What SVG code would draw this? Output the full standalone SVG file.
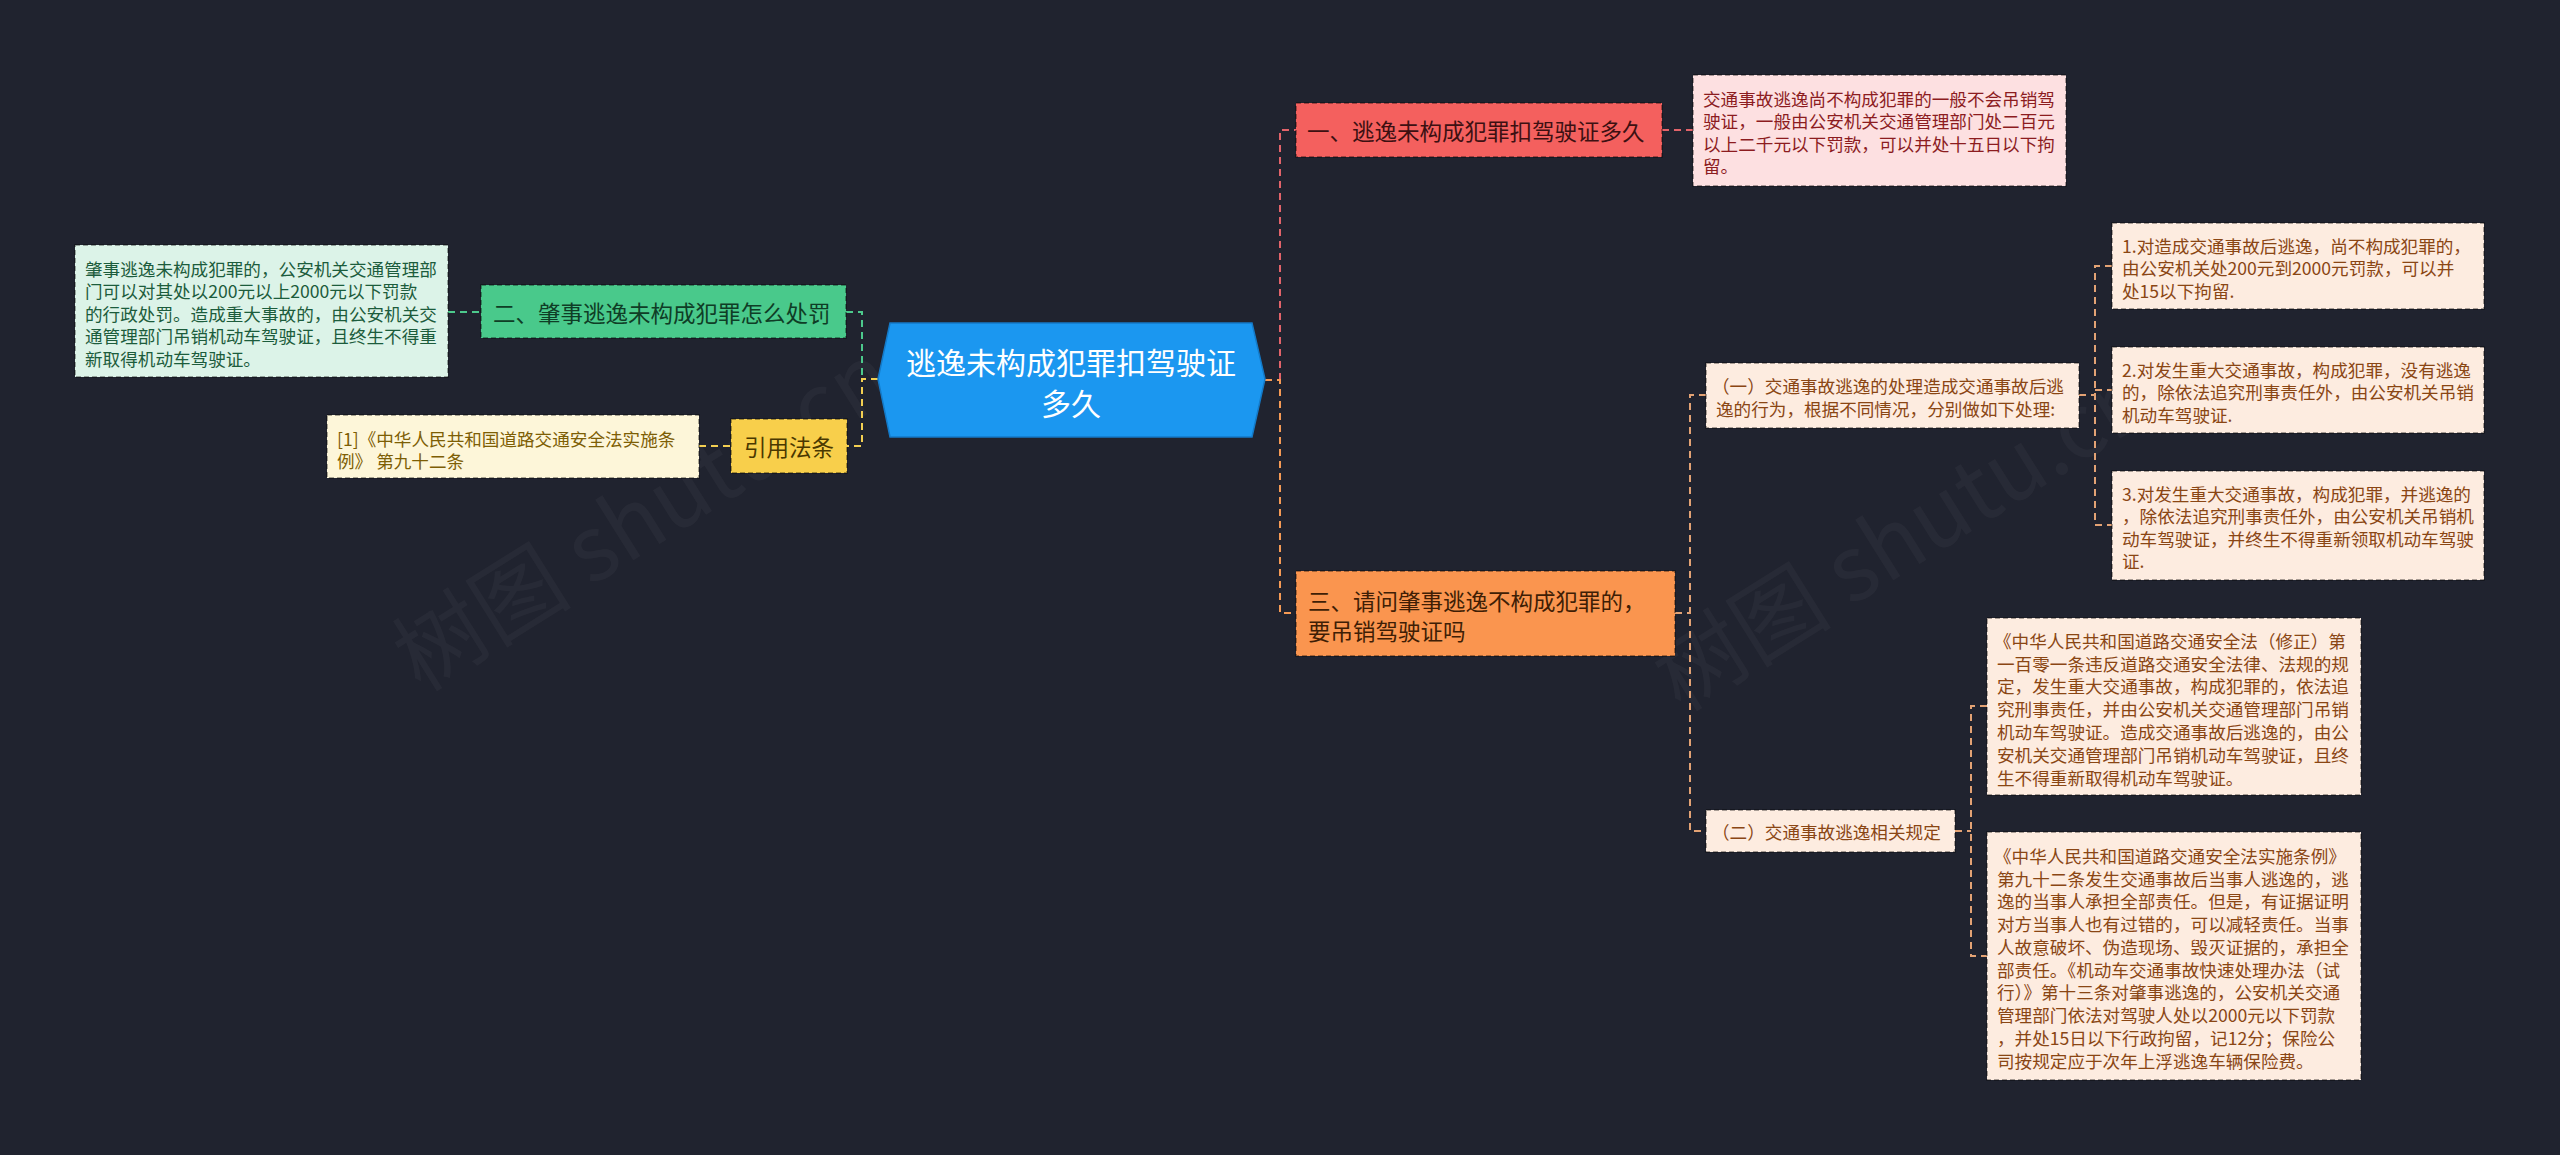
<svg xmlns="http://www.w3.org/2000/svg" width="2560" height="1155" viewBox="0 0 2560 1155">
<style>
text{font-family:"Noto Sans CJK SC","Noto Sans",sans-serif;dominant-baseline:central}
.box{stroke:rgba(0,0,0,0.45);stroke-width:1.5;stroke-dasharray:5 3}
.s{font-size:17.6px}
.m{font-size:22.5px}
.c{fill:none;stroke-width:2;stroke-dasharray:7 5}
.red{stroke:#e2636a}.grn{stroke:#4cc98c}.yel{stroke:#f3cf52}.org{stroke:#f59a55}.pch{stroke:#e3a274}
.wm{font-size:90px;fill:#ffffff;fill-opacity:0.035;font-family:"Noto Sans CJK SC",sans-serif}
</style>
<rect width="2560" height="1155" fill="#20232f"/>
<text class="wm" transform="translate(400,660) rotate(-32)">树图 shutu.cn</text>
<text class="wm" transform="translate(1660,680) rotate(-32)">树图 shutu.cn</text>
<g id="connectors">
<path class="c grn" d="M846,312 H862 V379"/>
<path class="c yel" d="M878,379 H862 V446 H847"/>
<path class="c yel" d="M699,446 H731"/>
<path class="c grn" d="M448,312 H481"/>
<path class="c red" d="M1280,380 V130 H1296"/>
<path class="c org" d="M1265,380 H1280 V613 H1296"/>
<path class="c red" d="M1662,130 H1693"/>
<path class="c pch" d="M1675,613 H1690"/>
<path class="c pch" d="M1706,395 H1690 V831 H1706"/>
<path class="c pch" d="M2079,395 H2095"/>
<path class="c pch" d="M2112,266 H2095 V525 H2112"/>
<path class="c pch" d="M2095,390 H2112"/>
<path class="c pch" d="M1955,831 H1971"/>
<path class="c pch" d="M1987,706 H1971 V956 H1987"/>
</g>
<g id="center">
<polygon points="878,379 890,323 1252,323 1265,379 1252,437 890,437" fill="#1b97f0" stroke="#147ac8" stroke-width="1.5"/>
<text x="1071" y="361" font-size="30" fill="#ffffff" text-anchor="middle">逃逸未构成犯罪扣驾驶证</text>
<text x="1071" y="402" font-size="30" fill="#ffffff" text-anchor="middle">多久</text>
</g>
<g id="n2">
<rect class="box" x="481" y="285" width="365" height="53" fill="#49c98b"/>
<text class="m" x="493" y="312" fill="#0f3d26">二、肇事逃逸未构成犯罪怎么处罚</text>
</g>
<g id="n2text">
<rect class="box" x="75" y="245" width="373" height="132" fill="#dcf3e8"/>
<g class="s" fill="#1c5c3c">
<text x="85" y="268">肇事逃逸未构成犯罪的，公安机关交通管理部</text>
<text x="85" y="290.5">门可以对其处以200元以上2000元以下罚款</text>
<text x="85" y="313">的行政处罚。造成重大事故的，由公安机关交</text>
<text x="85" y="335.5">通管理部门吊销机动车驾驶证，且终生不得重</text>
<text x="85" y="358">新取得机动车驾驶证。</text>
</g>
</g>
<g id="ref">
<rect class="box" x="731" y="419" width="116" height="54" fill="#f8cf4b"/>
<text class="m" x="789" y="446" fill="#4a3800" text-anchor="middle">引用法条</text>
</g>
<g id="reftext">
<rect class="box" x="327" y="415" width="372" height="63" fill="#fdf6d9"/>
<g class="s" fill="#7d5e05">
<text x="337" y="438">[1]《中华人民共和国道路交通安全法实施条</text>
<text x="337" y="460.5">例》 第九十二条</text>
</g>
</g>
<g id="n1">
<rect class="box" x="1296" y="103" width="366" height="54" fill="#f4605e"/>
<text class="m" x="1307" y="130" fill="#3d1012">一、逃逸未构成犯罪扣驾驶证多久</text>
</g>
<g id="n1text">
<rect class="box" x="1693" y="75" width="373" height="111" fill="#fde0e1"/>
<g class="s" fill="#8c1c1f">
<text x="1703" y="98">交通事故逃逸尚不构成犯罪的一般不会吊销驾</text>
<text x="1703" y="120.5">驶证，一般由公安机关交通管理部门处二百元</text>
<text x="1703" y="143">以上二千元以下罚款，可以并处十五日以下拘</text>
<text x="1703" y="165.5">留。</text>
</g>
</g>
<g id="n3">
<rect class="box" x="1296" y="571" width="379" height="85" fill="#fa954f"/>
<text class="m" x="1308" y="600" fill="#3f1e05">三、请问肇事逃逸不构成犯罪的，</text>
<text class="m" x="1308" y="630" fill="#3f1e05">要吊销驾驶证吗</text>
</g>
<g id="sub1">
<rect class="box" x="1706" y="363" width="373" height="65" fill="#fdece0"/>
<g class="s" fill="#8a4614">
<text x="1712" y="385">（一）交通事故逃逸的处理造成交通事故后逃</text>
<text x="1716" y="408">逸的行为，根据不同情况，分别做如下处理:</text>
</g>
</g>
<g id="item1">
<rect class="box" x="2112" y="223" width="372" height="86" fill="#fdece0"/>
<g class="s" fill="#8a4614">
<text x="2122" y="245">1.对造成交通事故后逃逸，尚不构成犯罪的，</text>
<text x="2122" y="267.5">由公安机关处200元到2000元罚款，可以并</text>
<text x="2122" y="290">处15以下拘留.</text>
</g>
</g>
<g id="item2">
<rect class="box" x="2112" y="347" width="372" height="86" fill="#fdece0"/>
<g class="s" fill="#8a4614">
<text x="2122" y="369">2.对发生重大交通事故，构成犯罪，没有逃逸</text>
<text x="2122" y="391.5">的，除依法追究刑事责任外，由公安机关吊销</text>
<text x="2122" y="414">机动车驾驶证.</text>
</g>
</g>
<g id="item3">
<rect class="box" x="2112" y="471" width="372" height="109" fill="#fdece0"/>
<g class="s" fill="#8a4614">
<text x="2122" y="493">3.对发生重大交通事故，构成犯罪，并逃逸的</text>
<text x="2122" y="515.5">，除依法追究刑事责任外，由公安机关吊销机</text>
<text x="2122" y="538">动车驾驶证，并终生不得重新领取机动车驾驶</text>
<text x="2122" y="560.5">证.</text>
</g>
</g>
<g id="sub2">
<rect class="box" x="1706" y="810" width="249" height="42" fill="#fdece0"/>
<text class="s" x="1712" y="831" fill="#8a4614">（二）交通事故逃逸相关规定</text>
</g>
<g id="law1">
<rect class="box" x="1987" y="618" width="374" height="177" fill="#fdece0"/>
<g class="s" fill="#8a4614">
<text x="1994" y="640">《中华人民共和国道路交通安全法（修正）第</text>
<text x="1997" y="663">一百零一条违反道路交通安全法律、法规的规</text>
<text x="1997" y="685.5">定，发生重大交通事故，构成犯罪的，依法追</text>
<text x="1997" y="708.5">究刑事责任，并由公安机关交通管理部门吊销</text>
<text x="1997" y="731">机动车驾驶证。造成交通事故后逃逸的，由公</text>
<text x="1997" y="754">安机关交通管理部门吊销机动车驾驶证，且终</text>
<text x="1997" y="777">生不得重新取得机动车驾驶证。</text>
</g>
</g>
<g id="law2">
<rect class="box" x="1987" y="832" width="374" height="248" fill="#fdece0"/>
<g class="s" fill="#8a4614">
<text x="1994" y="855">《中华人民共和国道路交通安全法实施条例》</text>
<text x="1997" y="878">第九十二条发生交通事故后当事人逃逸的，逃</text>
<text x="1997" y="900.5">逸的当事人承担全部责任。但是，有证据证明</text>
<text x="1997" y="923">对方当事人也有过错的，可以减轻责任。当事</text>
<text x="1997" y="946">人故意破坏、伪造现场、毁灭证据的，承担全</text>
<text x="1997" y="969">部责任。《机动车交通事故快速处理办法（试</text>
<text x="1997" y="991.5">行）》第十三条对肇事逃逸的，公安机关交通</text>
<text x="1997" y="1014.5">管理部门依法对驾驶人处以2000元以下罚款</text>
<text x="1997" y="1037">，并处15日以下行政拘留，记12分；保险公</text>
<text x="1997" y="1060">司按规定应于次年上浮逃逸车辆保险费。</text>
</g>
</g>
</svg>
